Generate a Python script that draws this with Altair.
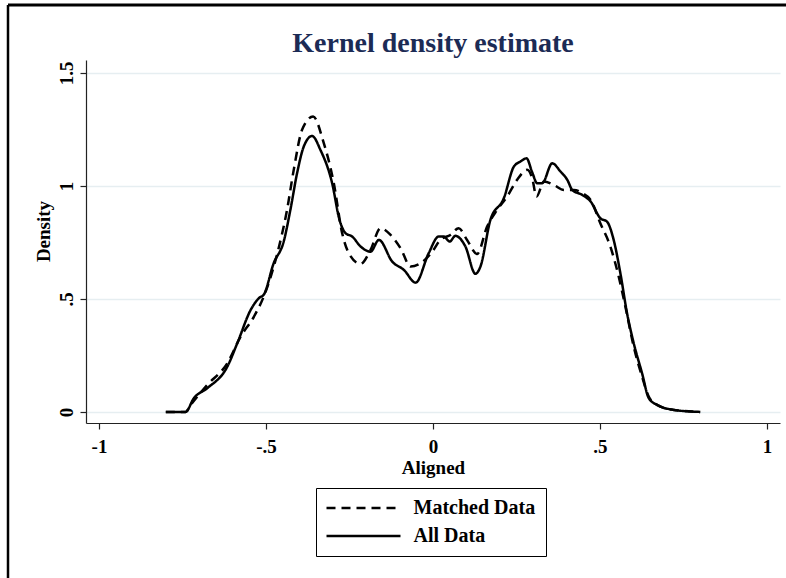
import altair as alt
import pandas as pd

# ---- data ----
all_x = [-0.800, -0.741, -0.716, -0.676, -0.616, -0.586, -0.546, -0.520, -0.507, -0.477,
         -0.447, -0.427, -0.407, -0.387, -0.362, -0.337, -0.302, -0.280, -0.262, -0.242,
         -0.217, -0.187, -0.162, -0.122, -0.087, -0.052, -0.013, 0.017, 0.032, 0.050,
         0.067, 0.097, 0.127, 0.142, 0.172, 0.212, 0.242, 0.262, 0.280, 0.297,
         0.312, 0.327, 0.357, 0.382, 0.402, 0.417, 0.447, 0.472, 0.501, 0.521,
         0.541, 0.561, 0.581, 0.601, 0.626, 0.646, 0.671, 0.721, 0.800]
all_y = [0.000, 0.000, 0.061, 0.105, 0.200, 0.304, 0.451, 0.505, 0.518, 0.658,
         0.754, 0.894, 1.056, 1.174, 1.221, 1.159, 1.012, 0.850, 0.791, 0.776,
         0.732, 0.709, 0.761, 0.665, 0.628, 0.572, 0.702, 0.776, 0.776, 0.754,
         0.779, 0.732, 0.611, 0.643, 0.850, 0.945, 1.085, 1.108, 1.122, 1.060,
         1.012, 1.012, 1.100, 1.063, 1.027, 0.982, 0.960, 0.931, 0.857, 0.842,
         0.761, 0.614, 0.437, 0.304, 0.171, 0.061, 0.031, 0.009, 0.000]

matched_x = [-0.800, -0.741, -0.726, -0.676, -0.616, -0.576, -0.536, -0.507, -0.466, -0.437,
             -0.417, -0.392, -0.359, -0.327, -0.297, -0.272, -0.252, -0.217, -0.187, -0.157,
             -0.127, -0.097, -0.067, -0.037, -0.002, 0.022, 0.052, 0.077, 0.102, 0.132,
             0.162, 0.192, 0.222, 0.252, 0.282, 0.297, 0.310, 0.332, 0.362, 0.392,
             0.422, 0.447, 0.472, 0.501, 0.531, 0.556, 0.576, 0.601, 0.626, 0.646,
             0.671, 0.721, 0.800]
matched_y = [0.000, 0.000, 0.030, 0.119, 0.215, 0.333, 0.422, 0.510, 0.702, 0.894,
             1.071, 1.248, 1.307, 1.189, 1.012, 0.791, 0.702, 0.655, 0.717, 0.813,
             0.783, 0.724, 0.643, 0.658, 0.709, 0.761, 0.783, 0.813, 0.761, 0.699,
             0.820, 0.894, 0.953, 1.027, 1.071, 1.034, 0.953, 1.019, 1.004, 0.982,
             0.982, 0.968, 0.938, 0.835, 0.732, 0.599, 0.466, 0.289, 0.156, 0.068,
             0.031, 0.009, 0.000]

series_names = ["Matched Data", "All Data"]
x_ticks = [-1, -0.5, 0, 0.5, 1]
y_ticks = [0, 0.5, 1, 1.5]

df = pd.concat([
    pd.DataFrame({"Aligned": matched_x, "Density": matched_y, "series": series_names[0], "order": range(len(matched_x))}),
    pd.DataFrame({"Aligned": all_x, "Density": all_y, "series": series_names[1], "order": range(len(all_x))}),
], ignore_index=True)

FONT = "Liberation Serif"

lines = alt.Chart(df).mark_line(strokeWidth=2.5, color="black", interpolate="monotone").encode(
    x=alt.X("Aligned:Q",
            scale=alt.Scale(domain=[-1.039, 1.039], nice=False, zero=False),
            axis=alt.Axis(values=x_ticks, grid=False, title="Aligned",
                          labelExpr="replace(toString(datum.value), '0.', '.')",
                          tickSize=6, labelPadding=8, titlePadding=2)),
    y=alt.Y("Density:Q",
            scale=alt.Scale(domain=[-0.049, 1.557], nice=False, zero=False),
            axis=alt.Axis(values=y_ticks, grid=True, title="Density",
                          labelExpr="replace(toString(datum.value), '0.', '.')",
                          labelAngle=270, labelAlign="center", labelBaseline="alphabetic",
                          tickSize=6, labelPadding=8,
                          titleAngle=270, titleX=-37, titleY=171,
                          titleAlign="center", titleBaseline="alphabetic")),
    strokeDash=alt.StrokeDash("series:N",
                              scale=alt.Scale(domain=series_names, range=[[9, 6], [1, 0]]),
                              legend=alt.Legend(orient="none", legendX=230, legendY=428, title=None,
                                                symbolType="M-5,0H5", symbolSize=219,
                                                symbolStrokeWidth=2.5, symbolStrokeColor="black",
                                                symbolOffset=27.5, labelOffset=40,
                                                labelFont=FONT, labelFontSize=20, labelFontWeight="bold",
                                                labelColor="black", padding=10, rowPadding=8,
                                                strokeColor="black", fillColor="white")),
    order="order:Q",
)

frame_data = pd.DataFrame({"k": [0]})
top_border = alt.Chart(frame_data).mark_rule(color="black", strokeWidth=3).encode(
    x=alt.value(-78), x2=alt.value(710), y=alt.value(-55))
left_border = alt.Chart(frame_data).mark_rule(color="black", strokeWidth=2.5).encode(
    x=alt.value(-78), y=alt.value(-55), y2=alt.value(530))

chart = alt.layer(lines, top_border, left_border).properties(
    width=694, height=363,
    padding={"left": 86, "top": 60, "right": 6, "bottom": 155},
    autosize=alt.AutoSizeParams(type="none"),
    background="white",
    title=alt.TitleParams(text="Kernel density estimate", font=FONT, fontSize=28, fontWeight="bold",
                          color="#1c2b55", anchor="middle", baseline="alphabetic", offset=8, dy=84.5),
).configure_view(strokeOpacity=0).configure_axis(
    labelFont=FONT, labelFontSize=19, labelFontWeight="bold", labelColor="black",
    titleFont=FONT, titleFontSize=19, titleFontWeight="bold", titleColor="black",
    domainColor="#222222", domainWidth=1.2, tickColor="#222222", tickWidth=1.2,
    gridColor="#e6eef1", gridWidth=1.5,
)

chart.save("out.html", embed_options={"renderer": "svg", "actions": False})
